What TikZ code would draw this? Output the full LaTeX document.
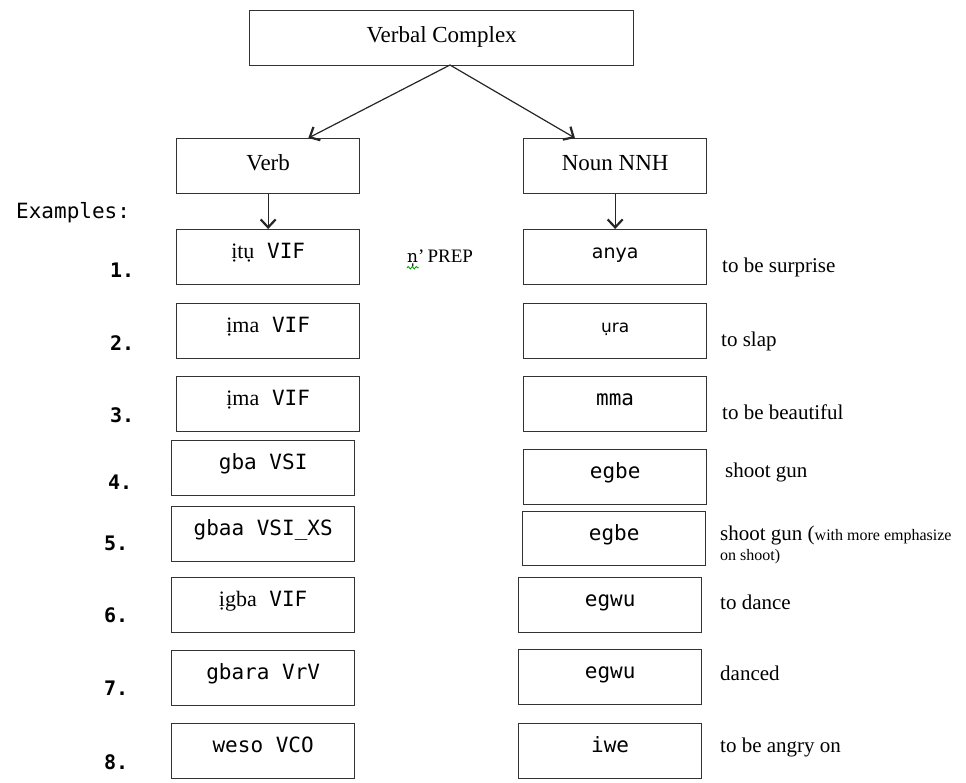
\documentclass[tikz,border=0pt]{standalone}
\usepackage{fontspec}
\setmainfont{Liberation Serif}
\newfontfamily\monof{DejaVu Sans Mono}
\newfontfamily\sansf{DejaVu Sans}
\newfontfamily\dvserif{DejaVu Serif}
\usetikzlibrary{arrows.meta,decorations.pathmorphing}
\newcommand\mn[1]{{\monof\fontsize{21}{25}\selectfont #1}}
\newcommand\srf[1]{{\fontsize{22}{26}\selectfont #1}}
\newcommand\snf[1]{{\sansf\fontsize{19}{23}\selectfont #1}}
\begin{document}
\begin{tikzpicture}[x=1pt,y=-1pt,
  boxbase/.style={draw=black!80, line width=1.3pt, rectangle, anchor=north west,
    minimum width=183pt, minimum height=55pt, inner sep=0pt},
  headbox/.style={boxbase, text height=32pt, text depth=23pt, font=\fontsize{23}{27}\selectfont},
  exbox/.style={boxbase, text height=29pt, text depth=26pt},
  numlab/.style={anchor=west, inner sep=0pt, font=\monof\bfseries\fontsize{20}{24}\selectfont},
  glosslab/.style={anchor=west, inner sep=0pt, font=\fontsize{21}{25}\selectfont},
  arr/.style={draw=black!85, line width=1.2pt, -{Straight Barb[length=8pt,width=15pt,line width=2.2pt]}}
]
\useasboundingbox (0,0) rectangle (966,782);

% top level
\node[headbox, minimum width=384pt] (vc) at (249,10) {Verbal Complex};
\node[headbox] (verb) at (176,138) {Verb};
\node[headbox] (noun) at (523,138) {Noun NNH};
\coordinate (apex) at (450,65);
\draw[arr] (apex) -- (verb.35);
\draw[arr] (apex) -- (noun.145);

\node[anchor=west, inner sep=0pt, font=\monof\fontsize{21}{25}\selectfont] (exlab) at (16,213) {Examples:};

% left column
\node[exbox] (l1) at (176,229) {\srf{ịtụ}\mn{ VIF}};
\node[exbox] (l2) at (176,303) {\srf{ịma}\mn{ VIF}};
\node[exbox] (l3) at (176,376) {\srf{ịma}\mn{ VIF}};
\node[exbox] (l4) at (171,440) {\mn{gba VSI}};
\node[exbox] (l5) at (171,506) {\mn{gbaa VSI\_XS}};
\node[exbox] (l6) at (171,577) {\srf{ịgba}\mn{ VIF}};
\node[exbox] (l7) at (171,650) {\mn{gbara VrV}};
\node[exbox] (l8) at (171,723) {\mn{weso VCO}};

% right column
\node[exbox] (r1) at (523,229) {\snf{anya}};
\node[exbox] (r2) at (523,303) {\snf{\fontsize{17}{20}\selectfont ụra}};
\node[exbox] (r3) at (523,376) {\mn{mma}};
\node[exbox] (r4) at (523,449) {\mn{egbe}};
\node[exbox, minimum height=54pt, text depth=25pt] (r5) at (522,511) {\mn{egbe}};
\node[exbox] (r6) at (518,577) {\mn{egwu}};
\node[exbox] (r7) at (518,649) {\mn{egwu}};
\node[exbox] (r8) at (518,723) {\mn{iwe}};

\draw[arr] (verb) -- (l1);
\draw[arr] (noun) -- (r1);

% numbers
\node[numlab] (n1) at (110,270) {1.};
\node[numlab] (n2) at (110,343) {2.};
\node[numlab] (n3) at (110,415) {3.};
\node[numlab] (n4) at (108,482) {4.};
\node[numlab] (n5) at (104,543) {5.};
\node[numlab] (n6) at (104,615) {6.};
\node[numlab] (n7) at (104,688) {7.};
\node[numlab] (n8) at (104,762) {8.};

% preposition
\node[anchor=west, inner sep=0pt, font=\fontsize{19}{23}\selectfont] (prep) at (407,258) {{\dvserif\fontsize{17}{21}\selectfont n̩}'\,PREP};
\draw[green!60!black, line width=0.8pt, decorate, decoration={snake, amplitude=1.2pt, segment length=4pt}]
  ([yshift=-1pt]prep.south west) coordinate (sq1) -- ([xshift=12pt,yshift=-1pt]prep.south west) coordinate (sq2);

% glosses
\node[glosslab] (g1) at (722,267) {to be surprise};
\node[glosslab] (g2) at (721,341) {to slap};
\node[glosslab] (g3) at (722,412) {to be beautiful};
\node[glosslab] (g4) at (725,472) {shoot gun};
\node[glosslab] (g5) at (720,535) {shoot gun (\fontsize{16}{19}\selectfont with more emphasize};
\node[anchor=west, inner sep=0pt, font=\fontsize{16}{19}\selectfont] (g5b) at (720,557) {on shoot)};
\node[glosslab] (g6) at (720,602) {to dance};
\node[glosslab] (g7) at (720,673) {danced};
\node[glosslab] (g8) at (720,747) {to be angry on};
\end{tikzpicture}
\end{document}
